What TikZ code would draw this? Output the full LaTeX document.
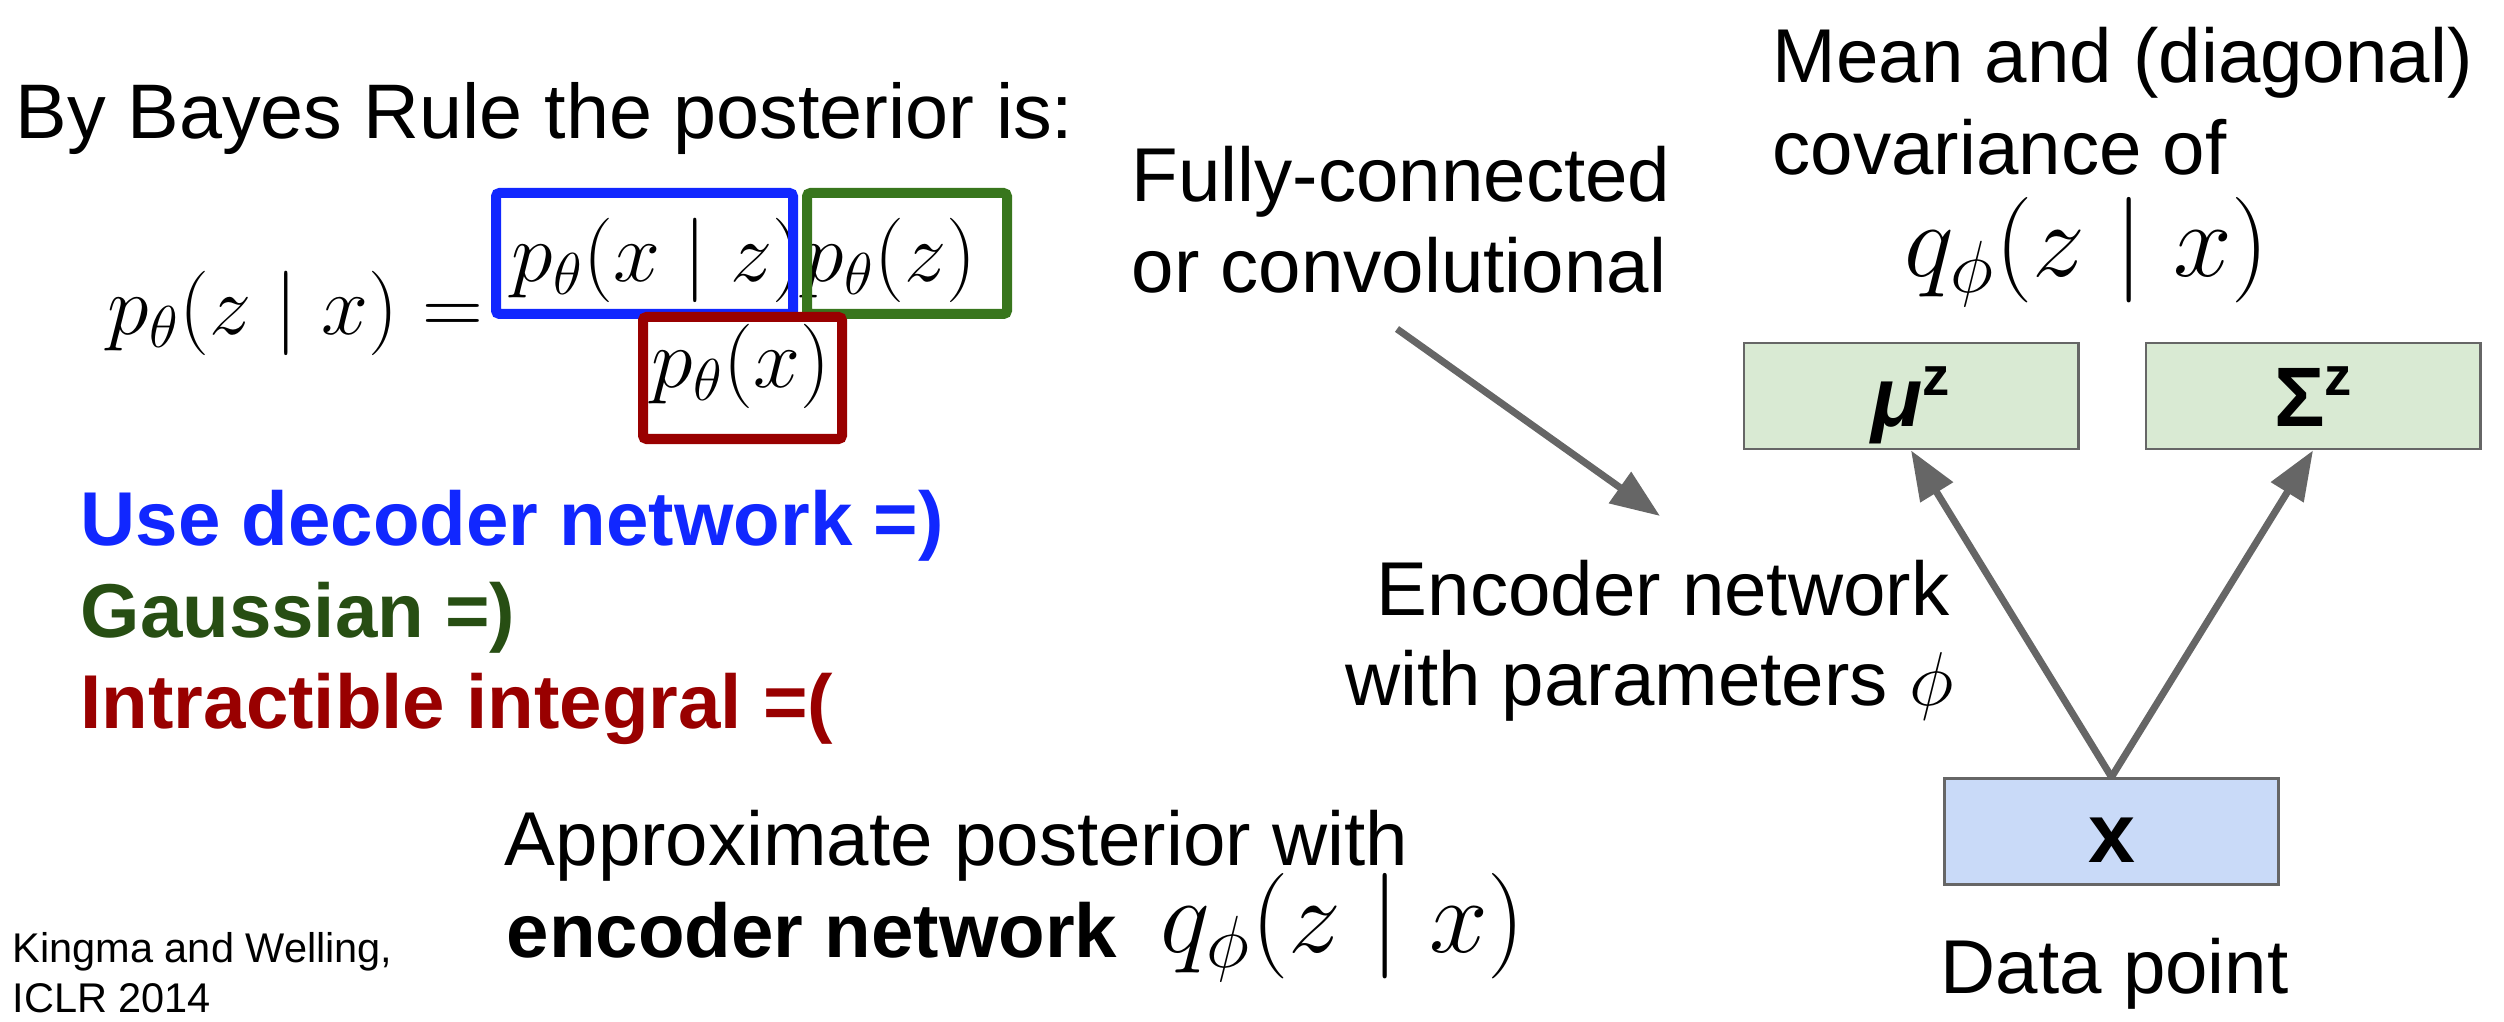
\RequirePackage{fix-cm}
\documentclass[tikz,border=0pt]{standalone}
\usepackage[no-math]{fontspec}
\setmainfont{Liberation Sans}
\usetikzlibrary{arrows.meta}

\definecolor{hlblue}{HTML}{1127FF}
\definecolor{hlgreen}{HTML}{38761D}
\definecolor{txtgreen}{HTML}{274E13}
\definecolor{hlred}{HTML}{990000}
\definecolor{edgegray}{HTML}{666666}
\definecolor{latentfill}{HTML}{D9EAD3}
\definecolor{inputfill}{HTML}{C9DAF8}

\begin{document}
\begin{tikzpicture}[x=0.01cm, y=-0.01cm,
  txt/.style={inner sep=0pt, anchor=base west, font=\fontsize{21.7}{26}\selectfont},
  txtr/.style={txt, anchor=base east},
  eq/.style={inner sep=0pt, anchor=base west, font=\fontsize{24}{29}\selectfont},
  bigeq/.style={inner sep=0pt, anchor=base west, font=\fontsize{30}{36}\selectfont},
  cite/.style={inner sep=0pt, anchor=base west, font=\fontsize{11.8}{14}\selectfont},
  hl/.style={line width=0.1cm, rounded corners=1pt},
  unit/.style={draw=edgegray, line width=0.8pt, inner sep=0pt,
    minimum width=3.34cm, minimum height=1.06cm,
    text height=17.6pt, text depth=0pt,
    font=\fontsize{24}{28}\selectfont\bfseries},
  latent/.style={unit, fill=latentfill},
  input/.style={unit, fill=inputfill},
  conn/.style={draw=edgegray, line width=2pt, -{Triangle[length=14pt,width=10.5pt]}}
]
\useasboundingbox (0,0) rectangle (2504,1022);

% Bayes rule with the three highlighted factors
\node[txt, font=\fontsize{22}{26}\selectfont] (bayes) at (15,139) {By Bayes Rule the posterior is:};
\node[eq] (lhs) at (107,335) {$p_\theta(z \mid x) =$};
\node[eq] (numer) at (511,282) {$p_\theta(x \mid z)p_\theta(z)$};
\node[eq] (denom) at (651,388) {$p_\theta(x)$};
\draw[hl, draw=hlblue]  (496,193) rectangle (793,314);
\draw[hl, draw=hlgreen] (807,193) rectangle (1007,314);
\draw[hl, draw=hlred]   (643,317) rectangle (842,439);

\node[txt, font=\fontsize{21.7}{26}\selectfont\bfseries, text=hlblue] (dec) at (80,546) {Use decoder network =)};
\node[txt, font=\fontsize{21.7}{26}\selectfont\bfseries, text=txtgreen] (gauss) at (80,637) {Gaussian =)};
\node[txt, font=\fontsize{21.7}{26}\selectfont\bfseries, text=hlred] (intr) at (80,728) {Intractible integral =(};

% approximate posterior
\node[txt] (approx1) at (504,865) {Approximate posterior with};
\node[txt, font=\fontsize{21.7}{26}\selectfont\bfseries] (approx2) at (506,957) {encoder network};
\node[bigeq] (qbottom) at (1160,952) {$q_\phi(z \mid x)$};

\node[cite] (cite1) at (12,962) {Kingma and Welling,};
\node[cite] (cite2) at (12,1012) {ICLR 2014};

% encoder network
\node[txt] (fc1) at (1131,202) {Fully-connected};
\node[txt] (fc2) at (1131,293) {or convolutional};
\node[txt] (mean1) at (1772,83) {Mean and (diagonal)};
\node[txt] (mean2) at (1772,175) {covariance of};
\node[bigeq] (qtop) at (1904,277) {$q_\phi(z \mid x)$};

\node[txtr] (enc1) at (1950,615) {Encoder network};
\node[txtr] (enc2) at (1954,705) {with parameters $\phi$};

\node[latent] (mubox) at (1911,396) {\textit{μ}\raisebox{9pt}{\fontsize{15.5}{16}\selectfont z}};
\node[latent] (sigbox) at (2313,396) {Σ\raisebox{9pt}{\fontsize{15.5}{16}\selectfont z}};
\node[input] (xbox) at (2111.5,831.5) {x};
\node[txt] (data) at (1940,993) {Data point};

\draw[conn] (xbox.north) -- (mubox.south);
\draw[conn] (xbox.north) -- (sigbox.south);

\coordinate (fcfrom) at (1397,329);
\coordinate (fcto) at (1660,516);
\draw[conn] (fcfrom) -- (fcto);
\end{tikzpicture}
\end{document}
